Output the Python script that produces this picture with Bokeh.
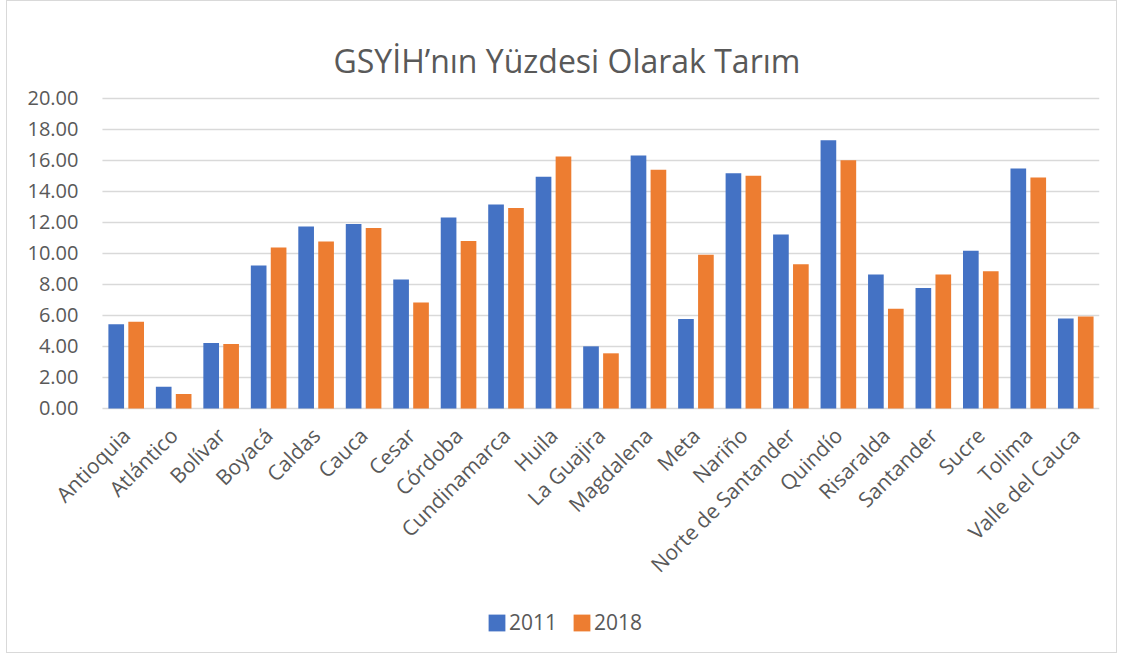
import math
from bokeh.plotting import figure
from bokeh.models import (ColumnDataSource, Legend, LegendItem, FactorRange, Range1d, Label)
from bokeh.core.properties import value
from bokeh.transform import dodge
from bokeh.embed import file_html
from bokeh.resources import INLINE

categories = ["Antioquia", "Atlántico", "Bolívar", "Boyacá", "Caldas", "Cauca", "Cesar",
              "Córdoba", "Cundinamarca", "Huila", "La Guajira", "Magdalena", "Meta", "Nariño",
              "Norte de Santander", "Quindío", "Risaralda", "Santander", "Sucre", "Tolima",
              "Valle del Cauca"]
v2011 = [5.44, 1.40, 4.23, 9.23, 11.74, 11.91, 8.33, 12.32, 13.16, 14.95, 4.01, 16.33,
         5.78, 15.17, 11.22, 17.30, 8.65, 7.77, 10.18, 15.49, 5.80]
v2018 = [5.59, 0.93, 4.16, 10.38, 10.77, 11.65, 6.84, 10.81, 12.94, 16.25, 3.56, 15.40,
         9.92, 15.02, 9.30, 16.01, 6.43, 8.65, 8.85, 14.91, 5.93]
y_ticks = [0, 2, 4, 6, 8, 10, 12, 14, 16, 18, 20]
y_tick_labels = ["0.00", "2.00", "4.00", "6.00", "8.00", "10.00", "12.00", "14.00",
                 "16.00", "18.00", "20.00"]
title_text = "GSYİH’nın Yüzdesi Olarak Tarım"
series_names = ["2011", "2018"]

FONT = "Open Sans"
TXT = "#595959"
BLUE = "#4472C4"
ORANGE = "#ED7D31"
GRID = "#D9D9D9"

# two empty slots on the left leave room for the value labels; the frame
# covers the whole canvas height so every text is drawn inside it
pad_factors = ["pad_a", "pad_b"]
x_range = FactorRange(factors=pad_factors + categories, range_padding=0)
y_range = Range1d(-15.871, 26.258)

bars = ColumnDataSource(dict(cat=categories, v2011=v2011, v2018=v2018))
grid = ColumnDataSource(dict(y=y_ticks, lab=y_tick_labels,
                             first=[categories[0]] * len(y_ticks),
                             last=[categories[-1]] * len(y_ticks)))

p = figure(x_range=x_range, y_range=y_range, width=1111, height=653,
           output_backend="svg", toolbar_location=None,
           x_axis_location=None, y_axis_location=None,
           min_border_left=0, min_border_right=19, min_border_top=0, min_border_bottom=0)
p.outline_line_color = None
p.grid.visible = False

# horizontal gridlines across the category area
p.segment(x0=dodge("first", -0.5, range=x_range), x1=dodge("last", 0.5, range=x_range),
          y0="y", y1="y", source=grid, line_color=GRID, line_width=1.5)

# value labels
p.text(x=dodge("first", -0.5, range=x_range), y="y", text="lab", source=grid,
       x_offset=-24, text_align="right", text_baseline="middle",
       text_font=value(FONT), text_font_size="20px", text_color=TXT)

r1 = p.vbar(x=dodge("cat", -0.21, range=x_range), top="v2011", width=0.33, source=bars,
            fill_color=BLUE, line_color=None)
r2 = p.vbar(x=dodge("cat", 0.21, range=x_range), top="v2018", width=0.33, source=bars,
            fill_color=ORANGE, line_color=None)

# category labels, rotated, hanging below the zero line
p.text(x="cat", y=0, text="cat", source=bars, angle=math.pi / 4,
       text_align="right", text_baseline="middle", x_offset=0, y_offset=23,
       text_font=value(FONT), text_font_size="21px", text_color=TXT)

title = Label(x=326, y=594, x_units="screen", y_units="screen", text=title_text,
              text_font=FONT, text_font_size="32px", text_color=TXT,
              text_align="left", text_baseline="alphabetic")
p.add_layout(title)

legend = Legend(items=[LegendItem(label=series_names[0], renderers=[r1]),
                       LegendItem(label=series_names[1], renderers=[r2])],
                orientation="horizontal", location=(479, 18))
legend.label_text_font = FONT
legend.label_text_font_size = "21px"
legend.label_text_color = TXT
legend.label_height = 21
legend.glyph_width = 21
legend.glyph_height = 21
legend.spacing = 14
legend.label_standoff = 2
legend.border_line_color = None
legend.background_fill_alpha = 0
legend.padding = 4
legend.margin = 0
p.add_layout(legend)

p.styles = {"border": "1px solid #D9D9D9", "margin-left": "6px"}

open("out.html", "w").write(file_html(p, INLINE))
